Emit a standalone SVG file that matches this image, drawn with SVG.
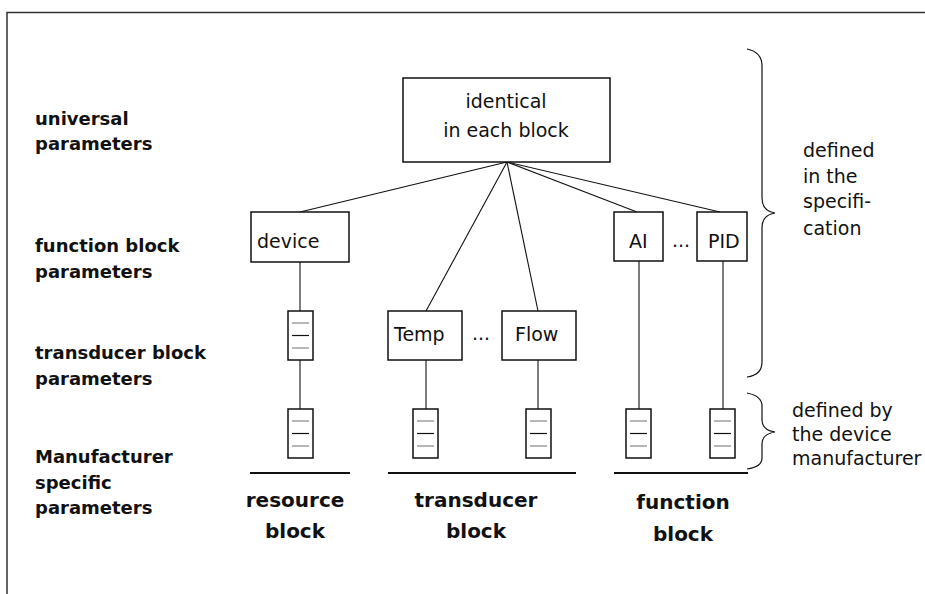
<svg xmlns="http://www.w3.org/2000/svg" width="925" height="594" viewBox="0 0 925 594">
<style>
  .frame{fill:none;stroke:#333;stroke-width:1.5}
  .box{fill:#fff;stroke:#111;stroke-width:1.5}
  .con{fill:none;stroke:#111;stroke-width:1.1}
  .brace{fill:none;stroke:#111;stroke-width:1.2}
  .base{fill:none;stroke:#111;stroke-width:2}
  .lg{stroke:#888;stroke-width:1.2}
  .lb{stroke:#111;stroke-width:1.2}
  .t{font-family:"DejaVu Sans","Liberation Sans",sans-serif;font-size:19px;fill:#111}
  .b{font-family:"DejaVu Sans","Liberation Sans",sans-serif;font-size:18px;font-weight:bold;fill:#111}
  .bb{font-family:"DejaVu Sans","Liberation Sans",sans-serif;font-size:20px;font-weight:bold;fill:#111;text-anchor:middle}
  .mid{text-anchor:middle}
</style>
<defs>
  <g id="stack">
    <rect x="0" y="0" width="25" height="49" class="box"/>
    <line x1="4" y1="12" x2="21" y2="12" class="lg"/>
    <line x1="4" y1="24.5" x2="21" y2="24.5" class="lb"/>
    <line x1="4" y1="37" x2="21" y2="37" class="lg"/>
  </g>
</defs>
<rect width="925" height="594" fill="#fff"/>
<path class="frame" d="M7,594 L7,12.5 L925,12.5"/>

<g id="row-labels">
  <text class="b" x="35" y="125">universal</text>
  <text class="b" x="35" y="150">parameters</text>
  <text class="b" x="35" y="252">function block</text>
  <text class="b" x="35" y="278">parameters</text>
  <text class="b" x="35" y="359">transducer block</text>
  <text class="b" x="35" y="385">parameters</text>
  <text class="b" x="35" y="463">Manufacturer</text>
  <text class="b" x="35" y="489">specific</text>
  <text class="b" x="35" y="514">parameters</text>
</g>

<g id="connectors">
  <line class="con" x1="507" y1="162" x2="300" y2="212"/>
  <line class="con" x1="507" y1="162" x2="426" y2="311"/>
  <line class="con" x1="507" y1="162" x2="538" y2="311"/>
  <line class="con" x1="507" y1="162" x2="637" y2="212"/>
  <line class="con" x1="507" y1="162" x2="720" y2="212"/>
  <line class="con" x1="300" y1="262" x2="300" y2="311"/>
  <line class="con" x1="300" y1="360" x2="300" y2="409"/>
  <line class="con" x1="426" y1="360" x2="426" y2="409"/>
  <line class="con" x1="538" y1="360" x2="538" y2="409"/>
  <line class="con" x1="639" y1="261" x2="639" y2="409"/>
  <line class="con" x1="723" y1="261" x2="723" y2="409"/>
</g>

<g id="universal">
  <rect class="box" x="403" y="78" width="207" height="84"/>
  <text class="t mid" x="506" y="108">identical</text>
  <text class="t mid" x="506" y="137">in each block</text>
</g>

<g id="device">
  <rect class="box" x="251" y="212" width="98" height="50"/>
  <text class="t" x="257" y="248">device</text>
</g>

<g id="ai">
  <rect class="box" x="614" y="212" width="49" height="49"/>
  <text class="t" x="629" y="248">AI</text>
</g>
<text class="t" x="672" y="247">...</text>
<g id="pid">
  <rect class="box" x="697" y="212" width="50" height="49"/>
  <text class="t" x="708" y="248">PID</text>
</g>

<g id="temp">
  <rect class="box" x="388" y="311" width="74" height="49"/>
  <text class="t" x="394" y="341">Temp</text>
</g>
<text class="t" x="472" y="340">...</text>
<g id="flow">
  <rect class="box" x="502" y="311" width="74" height="49"/>
  <text class="t" x="515" y="341">Flow</text>
</g>

<g id="res-stack-1"><use href="#stack" x="288" y="311"/></g>
<g id="res-stack-2"><use href="#stack" x="288" y="409"/></g>
<g id="temp-stack"><use href="#stack" x="413" y="409"/></g>
<g id="flow-stack"><use href="#stack" x="526" y="409"/></g>
<g id="ai-stack"><use href="#stack" x="626" y="409"/></g>
<g id="pid-stack"><use href="#stack" x="710" y="409"/></g>

<g id="resource-block">
  <line class="base" x1="250" y1="473" x2="350" y2="473"/>
  <text class="bb" x="295" y="507">resource</text>
  <text class="bb" x="295" y="538">block</text>
</g>
<g id="transducer-block">
  <line class="base" x1="388" y1="473" x2="576" y2="473"/>
  <text class="bb" x="476" y="507">transducer</text>
  <text class="bb" x="476" y="538">block</text>
</g>
<g id="function-block">
  <line class="base" x1="614" y1="473" x2="748" y2="473"/>
  <text class="bb" x="683" y="509">function</text>
  <text class="bb" x="683" y="541">block</text>
</g>

<g id="spec-brace">
  <path class="brace" d="M747,49 Q762,52 762,66 L762,198 Q762,211 775,213 Q762,215 762,228 L762,362 Q762,375 747,377"/>
  <text class="t" x="803" y="157">defined</text>
  <text class="t" x="803" y="183">in the</text>
  <text class="t" x="803" y="208">specifi-</text>
  <text class="t" x="803" y="235">cation</text>
</g>
<g id="manuf-brace">
  <path class="brace" d="M747,393 Q762,396 762,406 L762,420 Q762,430 775,432 Q762,434 762,444 L762,458 Q762,467 747,469"/>
  <text class="t" x="792" y="417">defined by</text>
  <text class="t" x="792" y="441">the device</text>
  <text class="t" x="792" y="465">manufacturer</text>
</g>
</svg>
